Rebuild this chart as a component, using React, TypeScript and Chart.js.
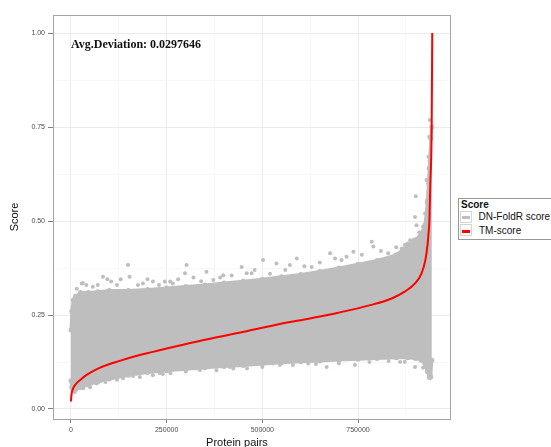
import React, { useEffect, useRef } from 'react';
import { Chart, registerables } from 'chart.js';

Chart.register(...registerables);

// TM-score curve (sorted)
const tmX = [0, 1000, 3000, 7000, 14000, 25000, 40000, 60000, 83000, 127000, 170000, 214000, 250000, 293000, 372000, 459000, 546000, 624000, 698000, 785000, 838000, 872000, 899000, 916000, 926000, 932000, 935000, 936500, 939000, 942500, 944000];
const tmY = [0.02, 0.035, 0.047, 0.058, 0.068, 0.078, 0.09, 0.102, 0.113, 0.128, 0.141, 0.152, 0.161, 0.171, 0.189, 0.207, 0.226, 0.241, 0.256, 0.277, 0.294, 0.312, 0.334, 0.361, 0.396, 0.44, 0.476, 0.5, 0.6, 0.75, 1.0];

// DN-FoldR score cloud: dense upper / lower envelope
const cloudX = [0, 2000, 6000, 12000, 25000, 45000, 70000, 100000, 150000, 200000, 250000, 300000, 350000, 400000, 450000, 500000, 550000, 600000, 650000, 700000, 750000, 800000, 850000, 880000, 900000, 915000, 925000, 931000, 936000, 940000, 943000];
const cloudUpper = [0.21, 0.26, 0.29, 0.3, 0.31, 0.31, 0.312, 0.315, 0.315, 0.318, 0.322, 0.326, 0.33, 0.335, 0.34, 0.345, 0.352, 0.358, 0.366, 0.375, 0.385, 0.395, 0.41, 0.435, 0.45, 0.465, 0.49, 0.55, 0.64, 0.72, 0.75];
const cloudLower = [0.075, 0.058, 0.05, 0.052, 0.057, 0.064, 0.072, 0.08, 0.09, 0.097, 0.102, 0.106, 0.11, 0.113, 0.116, 0.12, 0.123, 0.126, 0.128, 0.13, 0.132, 0.134, 0.136, 0.136, 0.134, 0.13, 0.12, 0.1, 0.085, 0.085, 0.13];

// DN-FoldR score scattered points outside the dense band
const outlierX = [28000, 31000, 57000, 83500, 105000, 149000, 153000, 188000, 214000, 245000, 259000, 266000, 298000, 302000, 354000, 372000, 398000, 446000, 459000, 472000, 502000, 537000, 572000, 590000, 629000, 677000, 707000, 738000, 786000, 790000, 829000, 864000, 872000, 886000, 894000, 899000, 901000, 903000, 907000, 912000, 920000, 929000, 931000, 934000, 936000, 938000,
  15000, 40000, 70000, 95000, 120000, 130000, 175000, 200000, 230000, 280000, 320000, 340000, 390000, 420000, 480000, 520000, 560000, 610000, 650000, 690000, 720000, 760000, 810000, 850000, 880000, 910000, 925000, 933000, 937000,
  31000, 32000, 66000, 136000, 162000, 214000, 232000, 240000, 328000, 337000, 415000, 424000, 528000, 546000, 620000, 668000, 742000, 872000, 899000, 935000, 938000,
  10000, 50000, 90000, 120000, 180000, 260000, 300000, 380000, 460000, 500000, 580000, 640000, 700000, 780000, 830000, 860000, 920000, 940000];
const outlierY = [0.334, 0.335, 0.325, 0.352, 0.339, 0.383, 0.352, 0.334, 0.339, 0.339, 0.339, 0.334, 0.361, 0.383, 0.365, 0.343, 0.356, 0.378, 0.361, 0.361, 0.396, 0.387, 0.383, 0.4, 0.378, 0.414, 0.396, 0.418, 0.445, 0.432, 0.414, 0.427, 0.436, 0.449, 0.449, 0.511, 0.566, 0.489, 0.449, 0.458, 0.485, 0.609, 0.556, 0.671, 0.724, 0.769,
  0.32, 0.33, 0.33, 0.345, 0.33, 0.345, 0.33, 0.345, 0.33, 0.345, 0.35, 0.34, 0.35, 0.355, 0.37, 0.36, 0.37, 0.38, 0.39, 0.4, 0.405, 0.41, 0.42, 0.43, 0.44, 0.47, 0.52, 0.6, 0.66,
  0.059, 0.055, 0.068, 0.082, 0.088, 0.09, 0.095, 0.093, 0.108, 0.104, 0.112, 0.108, 0.121, 0.117, 0.121, 0.112, 0.117, 0.126, 0.112, 0.104, 0.082,
  0.045, 0.058, 0.072, 0.078, 0.085, 0.095, 0.1, 0.103, 0.108, 0.112, 0.117, 0.12, 0.122, 0.125, 0.128, 0.125, 0.11, 0.09];

const xMajorTicks = [0, 250000, 500000, 750000];
const xMinorTicks = [125000, 375000, 625000, 875000];
const xTickLabels = ['0', '250000', '500000', '750000'];
const yMajorTicks = [0, 0.25, 0.5, 0.75, 1];
const yMinorTicks = [0.125, 0.375, 0.625, 0.875];
const yTickLabels = ['0.00', '0.25', '0.50', '0.75', '1.00'];

const GREY = '#BEBEBE';
const RED = '#FF0000';

const panelBorder = {
  id: 'panelBorder',
  afterDatasetsDraw(chart: any) {
    const { ctx, chartArea } = chart;
    const { left, top, right, bottom } = chartArea;
    ctx.save();
    ctx.strokeStyle = '#A6A6A6';
    ctx.lineWidth = 1;
    ctx.strokeRect(left + 0.5, top + 0.5, right - left, bottom - top);
    ctx.restore();
  },
};

export default function App() {
  const ref = useRef<HTMLCanvasElement | null>(null);

  useEffect(() => {
    if (!ref.current) return;
    const isMajor = (list: number[], v: number) => list.indexOf(v) >= 0;
    const chart = new Chart(ref.current, {
      type: 'scatter',
      data: {
        datasets: [
          {
            type: 'line',
            label: 'TM-score',
            data: tmX.map((x, i) => ({ x, y: tmY[i] })),
            borderColor: RED,
            borderWidth: 2,
            pointRadius: 0,
            fill: false,
            cubicInterpolationMode: 'monotone',
            order: 0,
          } as any,
          {
            type: 'scatter',
            label: 'DN-FoldR outliers',
            data: outlierX.map((x, i) => ({ x, y: outlierY[i] })),
            backgroundColor: GREY,
            borderWidth: 0,
            pointRadius: 2,
            order: 1,
          } as any,
          {
            type: 'line',
            label: 'DN-FoldR upper',
            data: cloudX.map((x, i) => ({ x, y: cloudUpper[i] })),
            borderColor: GREY,
            backgroundColor: GREY,
            pointBackgroundColor: GREY,
            pointBorderWidth: 0,
            pointRadius: 2.5,
            borderWidth: 3,
            tension: 0,
            fill: '+1',
            order: 2,
          } as any,
          {
            type: 'line',
            label: 'DN-FoldR lower',
            data: cloudX.map((x, i) => ({ x, y: cloudLower[i] })),
            borderColor: GREY,
            backgroundColor: GREY,
            pointBackgroundColor: GREY,
            pointBorderWidth: 0,
            pointRadius: 2.5,
            borderWidth: 3,
            tension: 0,
            fill: false,
            order: 3,
          } as any,
        ],
      },
      options: {
        responsive: false,
        animation: false,
        devicePixelRatio: 1,
        layout: { padding: { top: 15, right: 101, left: 0, bottom: 0 } },
        plugins: {
          legend: { display: false },
          tooltip: { enabled: false },
        },
        scales: {
          x: {
            type: 'linear',
            min: -47000,
            max: 990400,
            afterFit: (s: any) => { s.height = 28; },
            afterBuildTicks: (s: any) => {
              s.ticks = [...xMajorTicks, ...xMinorTicks].sort((a, b) => a - b).map((v) => ({ value: v }));
            },
            border: { display: false },
            grid: {
              color: (c: any) => (c.tick && isMajor(xMajorTicks, c.tick.value) ? '#EBEBEB' : '#F7F7F7'),
              tickColor: (c: any) => (c.tick && isMajor(xMajorTicks, c.tick.value) ? '#7F7F7F' : 'rgba(0,0,0,0)'),
              tickLength: 4,
              lineWidth: 1,
            },
            ticks: {
              autoSkip: false,
              maxRotation: 0,
              padding: 3,
              color: '#4D4D4D',
              font: { family: 'Liberation Sans', size: 7 },
              callback: (v: any) => {
                const i = xMajorTicks.indexOf(Number(v));
                return i >= 0 ? xTickLabels[i] : '';
              },
            },
          },
          y: {
            type: 'linear',
            min: -0.0266,
            max: 1.048,
            afterFit: (s: any) => { s.width = 53; },
            afterBuildTicks: (s: any) => {
              s.ticks = [...yMajorTicks, ...yMinorTicks].sort((a, b) => a - b).map((v) => ({ value: v }));
            },
            border: { display: false },
            grid: {
              color: (c: any) => (c.tick && isMajor(yMajorTicks, c.tick.value) ? '#EBEBEB' : '#F7F7F7'),
              tickColor: (c: any) => (c.tick && isMajor(yMajorTicks, c.tick.value) ? '#7F7F7F' : 'rgba(0,0,0,0)'),
              tickLength: 5,
              lineWidth: 1,
            },
            ticks: {
              autoSkip: false,
              padding: 3,
              color: '#4D4D4D',
              font: { family: 'Liberation Sans', size: 7 },
              callback: (v: any) => {
                const i = yMajorTicks.indexOf(Number(v));
                return i >= 0 ? yTickLabels[i] : '';
              },
            },
            title: {
              display: true,
              text: 'Score',
              color: '#111',
              font: { family: 'Liberation Sans', size: 11 },
              padding: { top: 8, bottom: 0 },
            },
          },
        },
      } as any,
      plugins: [panelBorder],
    });
    return () => chart.destroy();
  }, []);

  const text = (fs: number, extra: any = {}) => ({
    position: 'absolute' as const,
    fontFamily: 'Liberation Sans',
    fontSize: fs,
    lineHeight: `${fs}px`,
    whiteSpace: 'nowrap' as const,
    color: '#111',
    ...extra,
  });

  return (
    <div style={{ position: 'absolute', left: 0, top: 0, width: 551, height: 447, overflow: 'hidden', background: '#fff' }}>
      <canvas ref={ref} width={551} height={447} style={{ display: 'block' }} />
      <div style={{ position: 'absolute', left: 71, top: 37, fontFamily: 'Liberation Serif', fontWeight: 'bold', fontSize: 12, lineHeight: '14px', color: '#111', whiteSpace: 'nowrap' }}>
        Avg.Deviation: 0.0297646
      </div>
      <div style={text(11, { left: 237, top: 436, transform: 'translateX(-50%)', lineHeight: '13px' })}>Protein pairs</div>
      <div style={{ position: 'absolute', left: 458, top: 198, width: 120, height: 42, border: '1px solid #999', boxSizing: 'border-box', background: '#fff' }} />
      <div style={text(10, { left: 461, top: 199.5, fontWeight: 'bold' })}>Score</div>
      <div style={{ position: 'absolute', left: 460, top: 211, width: 12, height: 12, border: '1px solid #D5D5D5', boxSizing: 'border-box', background: '#fff' }}>
        <div style={{ position: 'absolute', left: 1, right: 1, top: 4, height: 3, background: GREY }} />
      </div>
      <div style={{ position: 'absolute', left: 460, top: 224, width: 12, height: 12, border: '1px solid #D5D5D5', boxSizing: 'border-box', background: '#fff' }}>
        <div style={{ position: 'absolute', left: 1, right: 1, top: 4.5, height: 3, background: RED }} />
      </div>
      <div style={text(10, { left: 478.5, top: 212.2 })}>DN-FoldR score</div>
      <div style={text(10, { left: 479, top: 225.5 })}>TM-score</div>
    </div>
  );
}
